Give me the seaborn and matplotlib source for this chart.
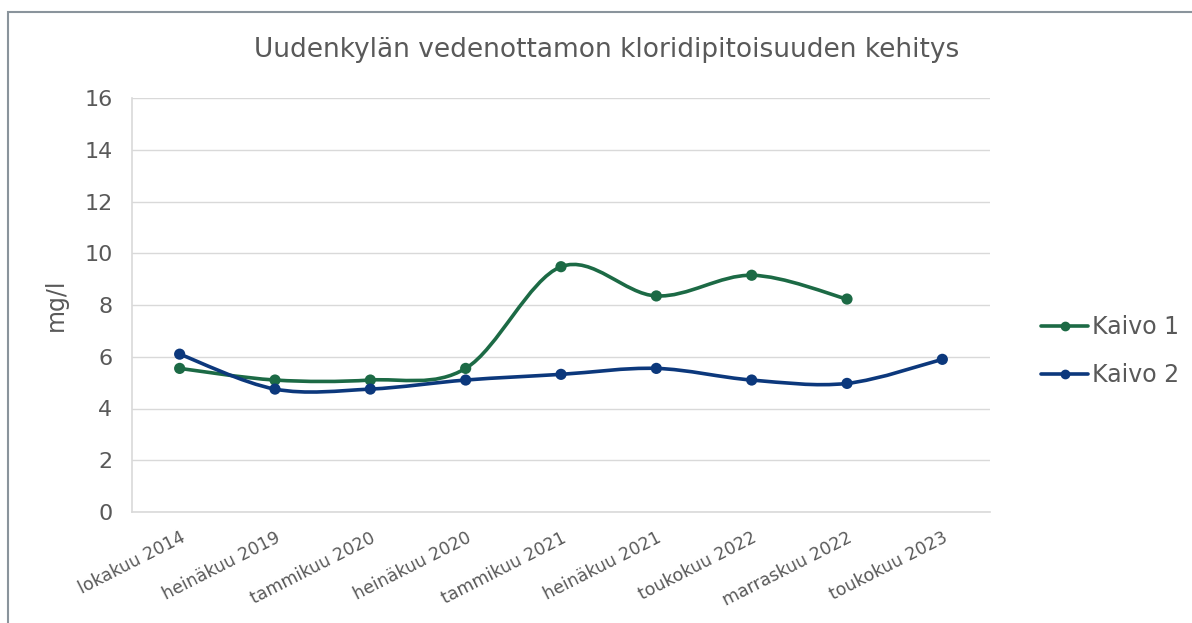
import matplotlib
matplotlib.use("Agg")
import matplotlib.pyplot as plt
from matplotlib.path import Path
from matplotlib.patches import PathPatch, Rectangle
from matplotlib.lines import Line2D
import seaborn as sns
import pandas as pd
import numpy as np

# chart data
categories = ["lokakuu 2014", "heinäkuu 2019", "tammikuu 2020", "heinäkuu 2020",
              "tammikuu 2021", "heinäkuu 2021", "toukokuu 2022", "marraskuu 2022",
              "toukokuu 2023"]
kaivo1 = [5.55, 5.1, 5.1, 5.55, 9.48, 8.35, 9.15, 8.23, np.nan]
kaivo2 = [6.1, 4.75, 4.75, 5.1, 5.32, 5.55, 5.1, 4.97, 5.9]
series_names = ["Kaivo 1", "Kaivo 2"]
colors = {"Kaivo 1": "#1c6a45", "Kaivo 2": "#0c387c"}
y_ticks = [0, 2, 4, 6, 8, 10, 12, 14, 16]
title = "Uudenkylän vedenottamon kloridipitoisuuden kehitys"

TEXT = "#595959"
GRID = "#d9d9d9"

sns.set_theme(style="white")
plt.rcParams["font.family"] = ["DejaVu Sans"]

fig = plt.figure(figsize=(11.92, 6.23), dpi=100)
ax = fig.add_axes([132 / 1192, 1 - 512 / 623, (990 - 132) / 1192, (512 - 98) / 623])

df = pd.DataFrame({
    "x": list(range(len(categories))) * 2,
    "value": kaivo1 + kaivo2,
    "series": [series_names[0]] * len(categories) + [series_names[1]] * len(categories),
}).dropna()


def smooth_path(xs, ys):
    # Excel-style smoothed line: cubic bezier through the points
    pts = np.column_stack([xs, ys])
    verts = [pts[0]]
    codes = [Path.MOVETO]
    n = len(pts)
    for i in range(n - 1):
        p0 = pts[i - 1] if i > 0 else pts[i]
        p1 = pts[i]
        p2 = pts[i + 1]
        p3 = pts[i + 2] if i + 2 < n else pts[i + 1]
        c1 = p1 + (p2 - p0) / 6
        c2 = p2 - (p3 - p1) / 6
        verts += [c1, c2, p2]
        codes += [Path.CURVE4] * 3
    return Path(verts, codes)


for name in series_names:
    sub = df[df["series"] == name]
    patch = PathPatch(smooth_path(sub["x"].to_numpy(float), sub["value"].to_numpy(float)),
                      facecolor="none", edgecolor=colors[name], lw=2.6, zorder=3,
                      capstyle="round", joinstyle="round")
    ax.add_patch(patch)

sns.scatterplot(data=df, x="x", y="value", hue="series", palette=colors,
                s=65, edgecolor="none", legend=False, zorder=4, ax=ax)

ax.set_xlim(-0.5, len(categories) - 0.5)
ax.set_ylim(0, 16)
ax.set_yticks(y_ticks)
ax.yaxis.grid(True, color=GRID, lw=1)
ax.set_axisbelow(True)

ax.set_xticks(range(len(categories)))
ax.set_xticklabels(categories, rotation=27, ha="right", rotation_mode="anchor",
                   fontsize=12.5, color=TEXT)
ax.set_xticks(np.arange(-0.5, len(categories), 1.0), minor=True)
ax.tick_params(axis="x", which="major", length=0, pad=12)
ax.tick_params(axis="x", which="minor", length=6, color=GRID, width=1, direction="out")
ax.tick_params(axis="y", length=6, color=GRID, width=1, direction="out",
               labelsize=16, labelcolor=TEXT, pad=8)

for side in ["top", "right"]:
    ax.spines[side].set_visible(False)
for side in ["left", "bottom"]:
    ax.spines[side].set_color(GRID)
    ax.spines[side].set_linewidth(1.2)

ax.set_xlabel("")
ax.set_ylabel("mg/l", fontsize=17, color=TEXT, labelpad=12)
fig.text(607 / 1192, 1 - 50 / 623, title, ha="center", va="center",
         fontsize=19, color=TEXT)

handles = [Line2D([0], [0], color=colors[n], lw=2.6, marker="o", markersize=6)
           for n in series_names]
fig.legend(handles, series_names, loc="center left",
           bbox_to_anchor=(1020 / 1192, 1 - 351 / 623), frameon=False,
           fontsize=17, labelcolor=TEXT, handlelength=2.0, handletextpad=0.15,
           labelspacing=1.0)

# chart border
fig.patches.append(Rectangle((8 / 1192, -0.05), 1.1, 1 - 12 / 623 + 0.05,
                             transform=fig.transFigure, fill=False,
                             edgecolor="#8a949c", lw=1.5))

fig.savefig("out.png", dpi=100, facecolor="white")
